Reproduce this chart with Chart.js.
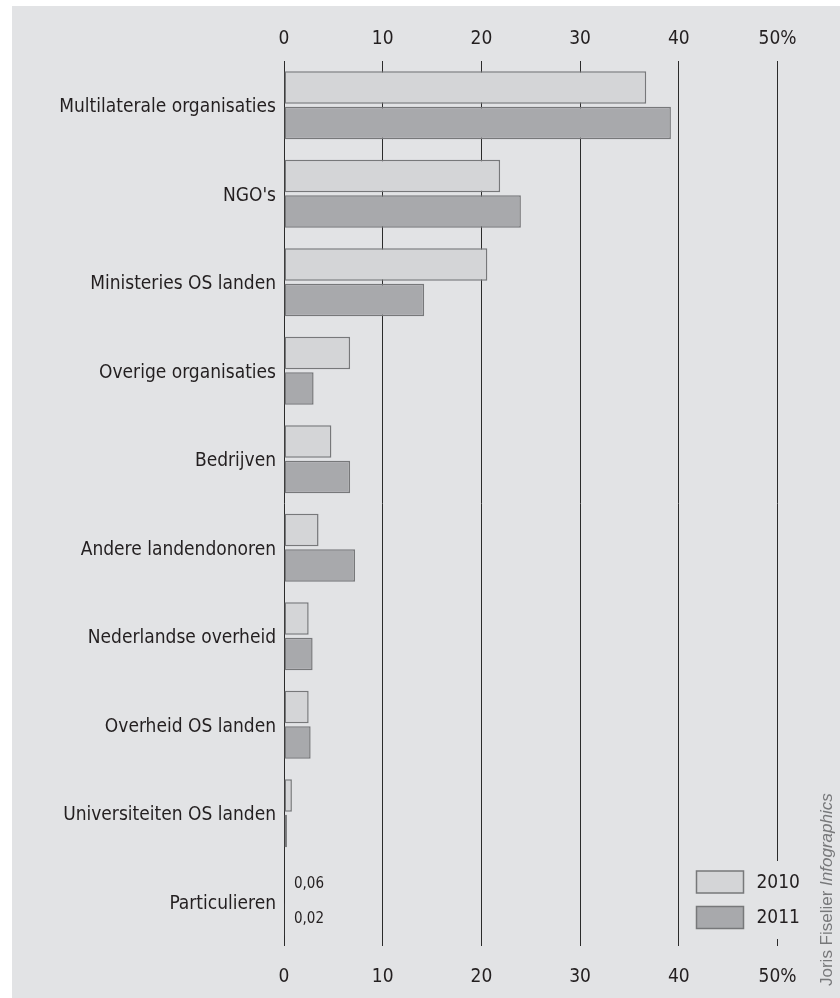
<!DOCTYPE html>
<html>
<head>
<meta charset="utf-8">
<title>Bestedingen per type ontvanger</title>
<script src="https://cdn.jsdelivr.net/npm/chart.js@4"></script>
<style>
  html, body { margin: 0; padding: 0; background: #ffffff; }
  #wrap { width: 840px; height: 998px; position: relative; }
</style>
</head>
<body>
<div id="wrap"><canvas id="barChart"></canvas></div>
<script>
// Chart data (percentages)
const categories = [
  'Multilaterale organisaties',
  "NGO's",
  'Ministeries OS landen',
  'Overige organisaties',
  'Bedrijven',
  'Andere landendonoren',
  'Nederlandse overheid',
  'Overheid OS landen',
  'Universiteiten OS landen',
  'Particulieren'
];
const values2010 = [36.7, 21.9, 20.6, 6.7, 4.8, 3.5, 2.5, 2.5, 0.8, 0.06];
const values2011 = [39.2, 24.0, 14.2, 3.0, 6.7, 7.2, 2.9, 2.7, 0.3, 0.02];
const seriesLabels = ['2010', '2011'];
const tickValues = [0, 10, 20, 30, 40, 50];
// categories whose tiny values get a written label
const labelledCategories = ['Particulieren'];

const condensed = "'Liberation Sans Narrow', 'DejaVu Sans Condensed', 'Roboto Condensed', sans-serif";
const textColor = '#231f20';
const fill2010 = '#d4d5d7';
const fill2011 = '#a8a9ac';
const barBorder = '#77787a';

document.addEventListener('DOMContentLoaded', function() {
  initializeBarChart();
});

/**
 * Grey panel behind the whole chart
 */
const panelPlugin = {
  id: 'panel',
  beforeDraw(chart) {
    const ctx = chart.ctx;
    ctx.save();
    ctx.fillStyle = '#ffffff';
    ctx.fillRect(0, 0, chart.width, chart.height);
    ctx.fillStyle = '#e2e3e5';
    ctx.fillRect(12, 6, chart.width - 12, chart.height - 6);
    ctx.restore();
  }
};

/**
 * Small value labels next to bars that are too thin to see
 */
const valueLabelPlugin = {
  id: 'valueLabels',
  afterDatasetsDraw(chart) {
    const ctx = chart.ctx;
    const x = chart.scales.x.getPixelForValue(0);
    ctx.save();
    ctx.fillStyle = textColor;
    ctx.font = '15px ' + condensed;
    ctx.textAlign = 'left';
    ctx.textBaseline = 'middle';
    chart.data.datasets.forEach(function(ds, di) {
      const meta = chart.getDatasetMeta(di);
      labelledCategories.forEach(function(cat) {
        const idx = chart.data.labels.indexOf(cat);
        const bar = meta.data[idx];
        const txt = ds.data[idx].toFixed(2).replace('.', ',');
        ctx.fillText(txt, x + 10, bar.y);
      });
    });
    ctx.restore();
  }
};

/**
 * Legend box in the lower right corner, plus the credit line
 */
const legendPlugin = {
  id: 'boxLegend',
  afterDraw(chart) {
    const ctx = chart.ctx;
    const area = chart.chartArea;
    const left = area.right - 81;
    const top = area.bottom - 75;
    ctx.save();
    ctx.fillStyle = '#e2e3e5';
    ctx.fillRect(left - 8, top - 10, 112, 78);

    const fills = [fill2010, fill2011];
    seriesLabels.forEach(function(label, i) {
      const y = top + i * 35.5;
      ctx.fillStyle = fills[i];
      ctx.fillRect(left, y, 47, 22);
      ctx.strokeStyle = barBorder;
      ctx.lineWidth = 1.5;
      ctx.strokeRect(left, y, 47, 22);
      ctx.fillStyle = textColor;
      ctx.font = '19px ' + condensed;
      ctx.textAlign = 'left';
      ctx.textBaseline = 'middle';
      ctx.fillText(label, left + 60, y + 12);
    });

    // credit, rotated
    ctx.translate(832, 986);
    ctx.rotate(-Math.PI / 2);
    ctx.fillStyle = '#77787a';
    ctx.textAlign = 'left';
    ctx.textBaseline = 'alphabetic';
    ctx.font = "17px 'Liberation Sans', Arial, sans-serif";
    const first = 'Joris Fiselier ';
    ctx.fillText(first, 0, 0);
    const w = ctx.measureText(first).width;
    ctx.font = "italic 17px 'Liberation Sans', Arial, sans-serif";
    ctx.fillText('Infographics', w, 0);
    ctx.restore();
  }
};

/**
 * Horizontal grouped bar chart
 */
function initializeBarChart() {
  const canvas = document.getElementById('barChart');
  if (!canvas) return;

  const tickCallback = function(value) {
    return value === 50 ? '50%' : String(value);
  };

  new Chart(canvas, {
    type: 'bar',
    data: {
      labels: categories,
      datasets: [
        {
          label: seriesLabels[0],
          data: values2010,
          backgroundColor: fill2010,
          borderColor: barBorder,
          borderWidth: 1.5,
          borderSkipped: false
        },
        {
          label: seriesLabels[1],
          data: values2011,
          backgroundColor: fill2011,
          borderColor: barBorder,
          borderWidth: 1.5,
          borderSkipped: false
        }
      ]
    },
    options: {
      indexAxis: 'y',
      responsive: true,
      maintainAspectRatio: false,
      animation: false,
      categoryPercentage: 0.8,
      barPercentage: 0.92,
      layout: { padding: { left: 0, right: 62.5, top: 0, bottom: 0 } },
      scales: {
        x: {
          position: 'bottom',
          min: 0,
          max: 50,
          afterBuildTicks: function(scale) {
            scale.ticks = tickValues.map(v => ({ value: v }));
          },
          afterFit: function(scale) { scale.height = 52; },
          grid: { color: '#2b2b2b', lineWidth: 1, drawTicks: false },
          border: { display: false },
          ticks: {
            padding: 20,
            color: textColor,
            font: { family: condensed, size: 19 },
            callback: tickCallback
          }
        },
        xTop: {
          position: 'top',
          axis: 'x',
          min: 0,
          max: 50,
          afterBuildTicks: function(scale) {
            scale.ticks = tickValues.map(v => ({ value: v }));
          },
          afterFit: function(scale) { scale.height = 61; },
          grid: { display: false, drawTicks: false },
          border: { display: false },
          ticks: {
            padding: 11,
            color: textColor,
            font: { family: condensed, size: 19 },
            callback: tickCallback
          }
        },
        y: {
          afterFit: function(scale) { scale.width = 284; },
          grid: { display: false },
          border: { display: false },
          ticks: {
            padding: 0,
            labelOffset: 2,
            color: textColor,
            font: { family: condensed, size: 19 }
          }
        }
      },
      plugins: {
        legend: { display: false },
        tooltip: { enabled: false }
      }
    },
    plugins: [panelPlugin, valueLabelPlugin, legendPlugin]
  });
}
</script>
</body>
</html>
